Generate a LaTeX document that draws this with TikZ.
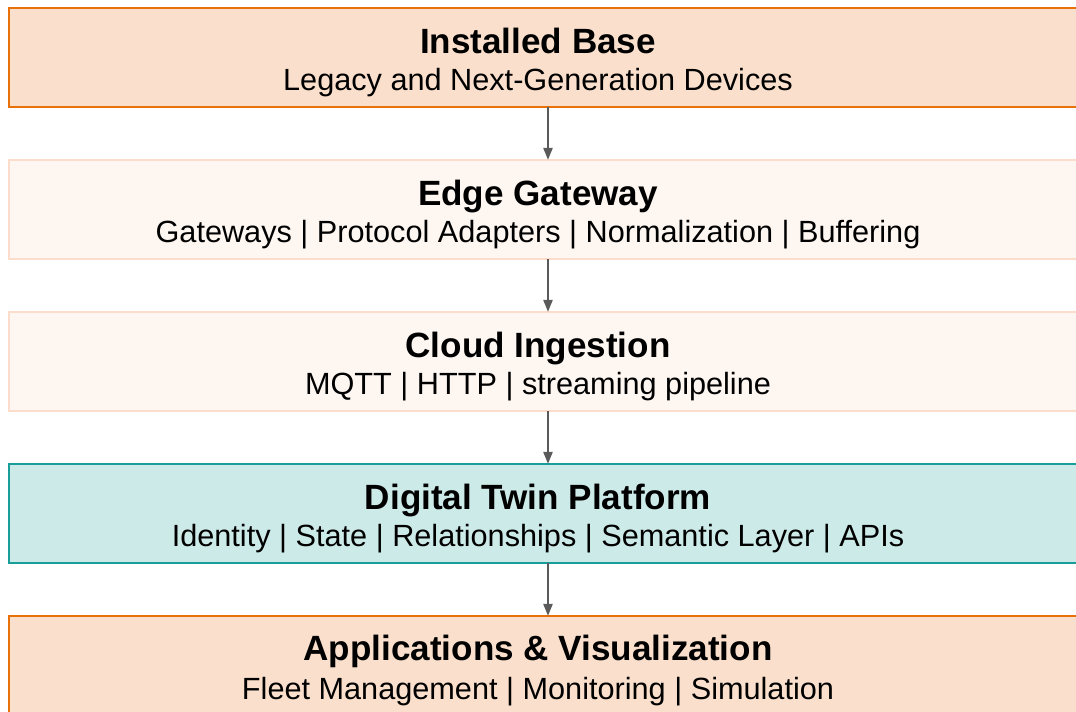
\documentclass[tikz,border=0pt]{standalone}
\usepackage{fontspec}
\setmainfont{Liberation Sans}
\usetikzlibrary{arrows.meta}

\definecolor{orangeline}{HTML}{E8710A}
\definecolor{orangefill}{HTML}{FAE0CC}
\definecolor{paleline}{HTML}{FCDCCB}
\definecolor{palefill}{HTML}{FDF6F1}
\definecolor{tealline}{HTML}{1A9E9A}
\definecolor{tealfill}{HTML}{CCEAE8}
\definecolor{arrowgray}{HTML}{5A5A5A}

\begin{document}
\begin{tikzpicture}[x=0.75pt,y=0.75pt,yscale=-1,xscale=1,
    layerbox/.style={rectangle, line width=1.5pt, inner sep=0pt, outer sep=0pt,
        minimum width=808.5pt, minimum height=74.6pt},
    orangebox/.style={layerbox, draw=orangeline, fill=orangefill},
    palebox/.style={layerbox, draw=paleline, fill=palefill},
    tealbox/.style={layerbox, draw=tealline, fill=tealfill},
    titletext/.style={anchor=base, inner sep=0pt, font=\fontsize{26.3}{31}\selectfont\bfseries},
    subtext/.style={anchor=base, inner sep=0pt, font=\fontsize{23}{27}\selectfont},
    flow/.style={draw=arrowgray, line width=1.2pt, -{Triangle[length=9pt,width=7pt]}}]
    %set diagram to the 1076 x 712 frame
    \clip (0,0) rectangle (1076,712);

    %Shape: Rectangle [Installed Base]
    \node [orangebox] (base) at (548,57.5) {};
    %Shape: Rectangle [Edge Gateway]
    \node [palebox] (edge) at (548,209.5) {};
    %Shape: Rectangle [Cloud Ingestion]
    \node [palebox] (cloud) at (548,361.5) {};
    %Shape: Rectangle [Digital Twin Platform]
    \node [tealbox] (twin) at (548,513.5) {};
    %Shape: Rectangle [Applications]
    \node [orangebox] (apps) at (548,665.5) {};

    %Straight Lines
    \draw [flow] (base.south) -- (edge.north);
    %Straight Lines
    \draw [flow] (edge.south) -- (cloud.north);
    %Straight Lines
    \draw [flow] (cloud.south) -- (twin.north);
    %Straight Lines
    \draw [flow] (twin.south) -- (apps.north);

    % Text Node
    \node [titletext] (basetitle) at (538,53.3) {Installed Base};
    % Text Node
    \node [subtext] (basesub) at (538,91) {Legacy and Next-Generation Devices};
    % Text Node
    \node [titletext] (edgetitle) at (538,205.3) {Edge Gateway};
    % Text Node
    \node [subtext] (edgesub) at (538,243) {Gateways | Protocol Adapters | Normalization | Buffering};
    % Text Node
    \node [titletext] (cloudtitle) at (538,357.3) {Cloud Ingestion};
    % Text Node
    \node [subtext] (cloudsub) at (538,395) {MQTT | HTTP | streaming pipeline};
    % Text Node
    \node [titletext] (twintitle) at (538,509.3) {Digital Twin Platform};
    % Text Node
    \node [subtext] (twinsub) at (538,547) {Identity | State | Relationships | Semantic Layer | APIs};
    % Text Node
    \node [titletext] (appstitle) at (538,660.5) {Applications \& Visualization};
    % Text Node
    \node [subtext] (appssub) at (538,700) {Fleet Management | Monitoring | Simulation};

\end{tikzpicture}
\end{document}
